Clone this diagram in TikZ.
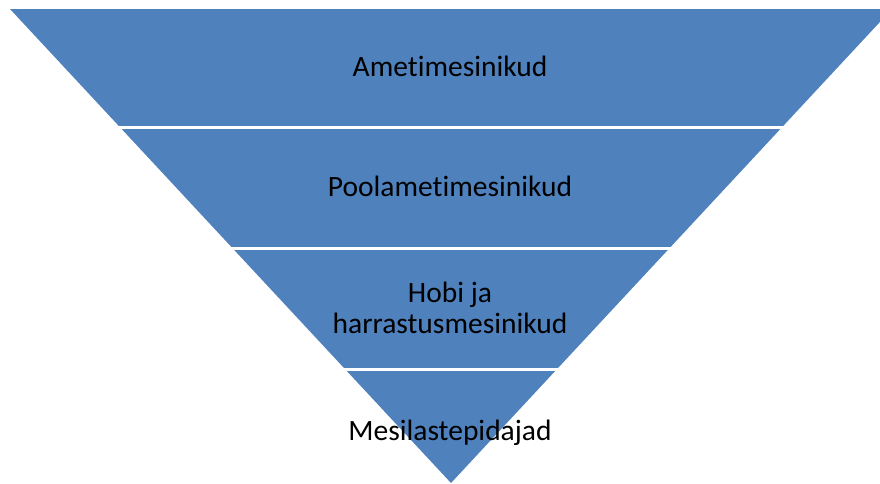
\documentclass[tikz,border=0pt]{standalone}
\usepackage{fontspec}
\setmainfont[Ligatures=CommonOff]{Carlito}
\definecolor{bandblue}{HTML}{4F81BD}
\tikzset{
  band/.style={fill=bandblue, draw=none},
  gap/.style={fill=white, draw=none},
  label/.style={inner sep=0pt, anchor=base, text=black, font=\fontsize{29.5}{31}\selectfont, align=center}
}
\begin{document}
\begin{tikzpicture}[x=1pt,y=-1pt]
\useasboundingbox (0,0) rectangle (880,483);
\clip (0,0) rectangle (880,483);
\fill[band] (10,9) coordinate (tl) -- (892,9) coordinate (tr) -- (451,483) coordinate (ap) -- cycle;
\fill[gap] (0,126) rectangle (880,129);
\fill[gap] (0,247) rectangle (880,250);
\fill[gap] (0,368) rectangle (880,371);
\node[label] (l1) at (450,76) {Ametimesinikud};
\node[label] (l2) at (450,196) {Poolametimesinikud};
\node[label] (l3) at (450,333) {Hobi ja\\harrastusmesinikud};
\node[label] (l4) at (450,440) {Mesilastepidajad};
\end{tikzpicture}
\end{document}
